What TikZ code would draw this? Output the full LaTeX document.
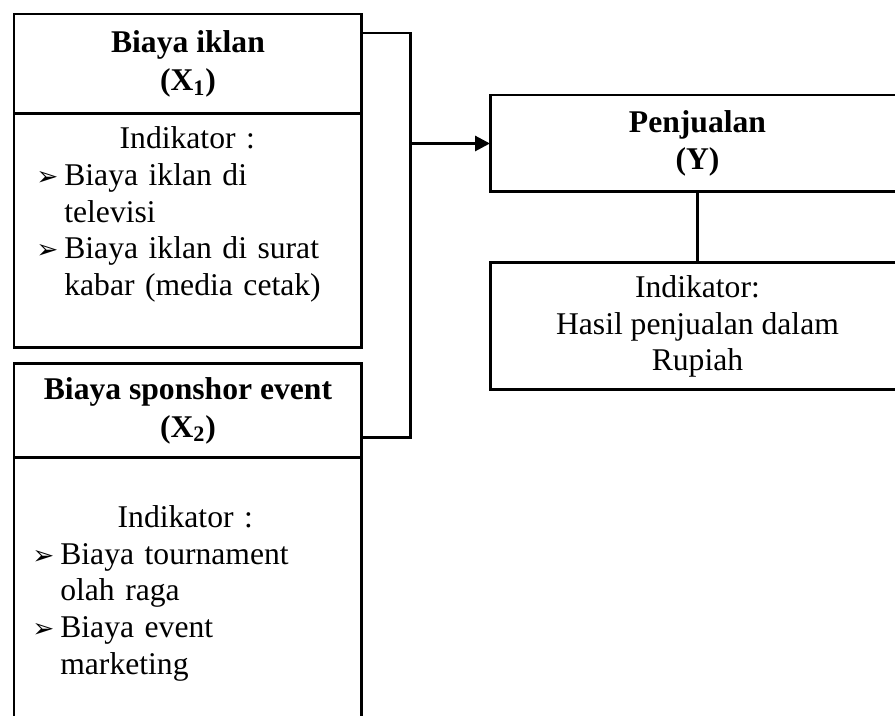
\documentclass[tikz,border=0pt]{standalone}
\usepackage{fontspec}
\setmainfont{Liberation Serif}
\newfontfamily\dingfont{DejaVu Sans}
\usetikzlibrary{arrows.meta,calc,positioning}

\newcommand{\butir}{\makebox[0.56cm][l]{\fontsize{15}{15}\dingfont\char"27A2}}
\newcommand{\lanjut}{\hspace*{0.56cm}}

\begin{document}
\begin{tikzpicture}[x=0.02cm,y=-0.02cm,
  kotak/.style={draw,line width=1.7pt,inner sep=0pt,outer sep=0pt,align=center},
  judul/.style={font=\fontsize{18}{21.5}\selectfont\bfseries},
  isi/.style={inner sep=0pt,align=left,font=\fontsize{18}{21}\selectfont},
  garis/.style={line width=1.7pt},
  node distance=0.32cm]
  \useasboundingbox (0,0) rectangle (895,716);

  % Variabel X1
  \node[kotak,judul,anchor=north west,minimum width=6.96cm,minimum height=2cm] (iklan) at (14,14) {Biaya iklan\\(X\textsubscript{1})};
  \node[kotak,anchor=north,minimum width=6.96cm,minimum height=4.68cm] (iklanInd) at (iklan.south) {};
  \node[isi,text width=6.04cm,anchor=north west] (iklanTeks) at ([xshift=0.44cm,yshift=-0.24cm]iklanInd.north west)
    {\makebox[\linewidth]{Indikator :}\\
     \butir Biaya iklan di\\
     \lanjut televisi\\
     \butir Biaya iklan di surat\\
     \lanjut kabar (media cetak)};

  % Variabel X2
  \node[kotak,judul,below=of iklanInd,minimum width=6.96cm,minimum height=1.88cm] (sponsor) {Biaya sponshor event\\(X\textsubscript{2})};
  \node[kotak,anchor=north,minimum width=6.96cm,minimum height=5.8cm] (sponsorInd) at (sponsor.south) {};
  \node[isi,text width=6.12cm,anchor=north west] (sponsorTeks) at ([xshift=0.36cm,yshift=-0.94cm]sponsorInd.north west)
    {\makebox[\linewidth]{Indikator :}\\
     \butir Biaya tournament\\
     \lanjut olah raga\\
     \butir Biaya event\\
     \lanjut marketing};

  % Variabel Y
  \node[kotak,judul,anchor=north west,minimum width=8.3cm,minimum height=1.94cm] (jual) at (490,95) {Penjualan\\(Y)};
  \node[kotak,isi,align=center,below=1.42cm of jual,minimum width=8.3cm,minimum height=2.54cm] (jualInd) {Indikator:\\Hasil penjualan dalam\\Rupiah};

  % Penghubung
  \draw[garis] (jual) -- (jualInd);
  \coordinate (gabung) at ([xshift=-1.6cm]jual.west);
  \draw[garis] ([yshift=-0.38cm]iklan.north east) -| (gabung) |- ([yshift=0.4cm]sponsor.south east);
  \draw[garis,-{Triangle[length=0.3cm,width=0.3cm]}] (gabung) -- (jual);
\end{tikzpicture}
\end{document}
